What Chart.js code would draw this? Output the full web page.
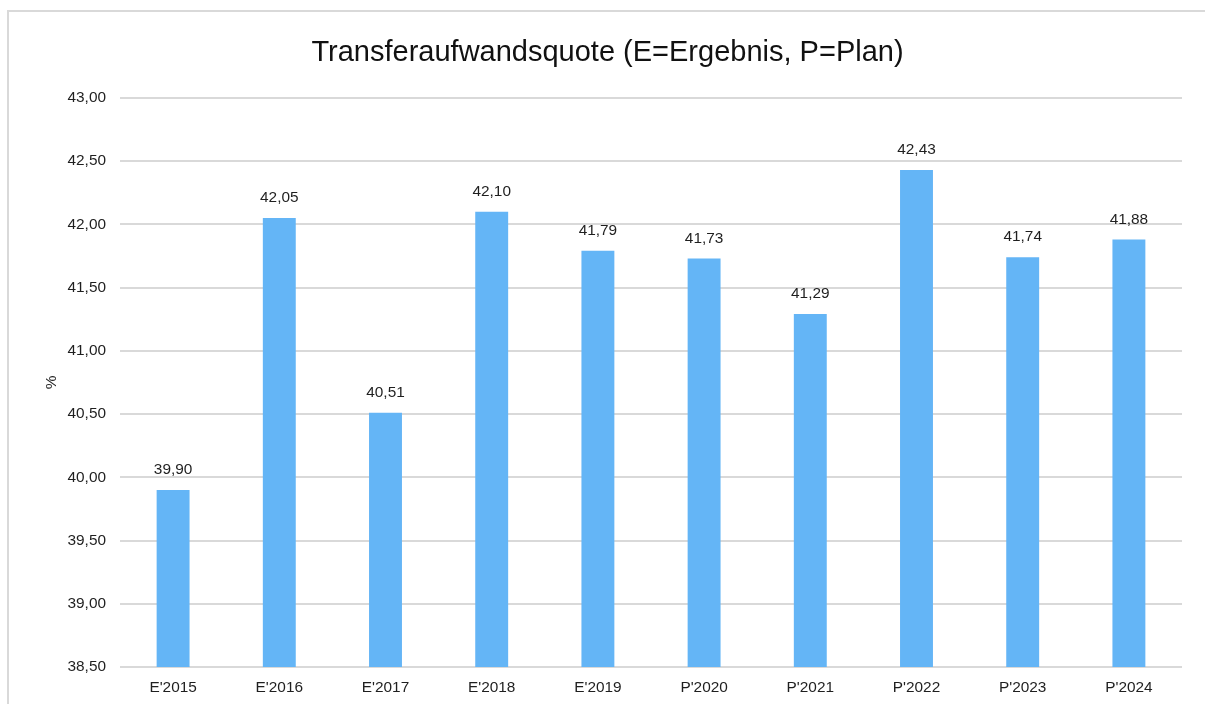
<!DOCTYPE html>
<html>
<head>
<meta charset="utf-8">
<script src="https://cdn.jsdelivr.net/npm/chart.js@4/dist/chart.umd.min.js"></script>
<style>
  html, body { margin: 0; padding: 0; background: #fff; overflow: hidden; }
  #frame { position: absolute; left: 7px; top: 10px; width: 1300px; height: 800px; border: 2px solid #d9d9d9; box-sizing: border-box; }
  #wrap { position: absolute; left: 0; top: 0; width: 1205px; height: 704px; }
</style>
</head>
<body>
<div id="frame"></div>
<div id="wrap"><canvas id="c" width="1205" height="704"></canvas></div>
<script>
const categories = ["E'2015", "E'2016", "E'2017", "E'2018", "E'2019", "P'2020", "P'2021", "P'2022", "P'2023", "P'2024"];
const values = [39.90, 42.05, 40.51, 42.10, 41.79, 41.73, 41.29, 42.43, 41.74, 41.88];
const yMin = 38.5, yMax = 43.0, yStep = 0.5;
const titleText = "Transferaufwandsquote (E=Ergebnis, P=Plan)";
const yAxisTitle = "%";

const fmt = v => Number(v).toFixed(2).replace('.', ',');
const FONT = "'Liberation Sans', Arial, sans-serif";
const TEXT = '#1f1f1f';

const labelPlugin = {
  id: 'barLabels',
  afterDatasetsDraw(chart) {
    const ctx = chart.ctx;
    const meta = chart.getDatasetMeta(0);
    ctx.save();
    ctx.font = '15.4px ' + FONT;
    ctx.fillStyle = TEXT;
    ctx.textAlign = 'center';
    ctx.textBaseline = 'middle';
    meta.data.forEach((bar, i) => {
      ctx.fillText(fmt(chart.data.datasets[0].data[i]), bar.x, bar.y - 20);
    });
    ctx.restore();
  }
};

new Chart(document.getElementById('c'), {
  type: 'bar',
  data: {
    labels: categories,
    datasets: [{
      data: values,
      backgroundColor: '#64B5F6',
      borderWidth: 0,
      categoryPercentage: 1.0,
      barPercentage: 0.31
    }]
  },
  options: {
    responsive: false,
    animation: false,
    layout: { padding: { left: 33, right: 23, top: 0, bottom: 8 } },
    plugins: {
      legend: { display: false },
      tooltip: { enabled: false },
      title: {
        display: true,
        text: titleText,
        color: '#111',
        font: { family: FONT, size: 29, weight: 'normal' },
        padding: { top: 36, bottom: 27 }
      }
    },
    scales: {
      x: {
        afterFit(scale) { scale.height = 29; },
        grid: { display: false, drawTicks: false },
        border: { display: false },
        ticks: { color: TEXT, font: { family: FONT, size: 15.4 }, padding: 12, maxRotation: 0 }
      },
      y: {
        min: yMin, max: yMax,
        afterFit(scale) { scale.width = 87; },
        grid: { color: '#d9d9d9', lineWidth: 2, drawTicks: false },
        border: { display: false },
        ticks: { stepSize: yStep, color: TEXT, font: { family: FONT, size: 15.4 }, padding: 14, callback: v => fmt(v) },
        title: { display: true, text: yAxisTitle, color: TEXT, font: { family: FONT, size: 15.4 }, padding: { top: 10, bottom: 0 } }
      }
    }
  },
  plugins: [labelPlugin]
});
</script>
</body>
</html>
